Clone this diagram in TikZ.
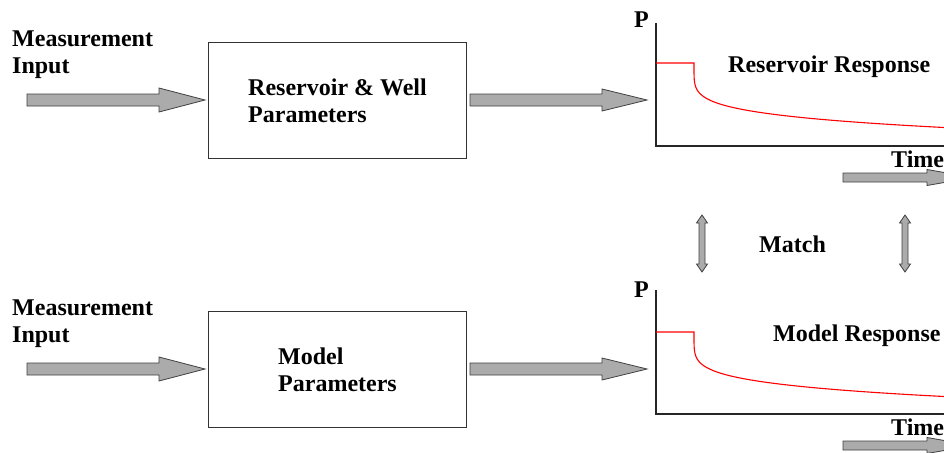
\documentclass[tikz,border=0pt]{standalone}
\usepackage{fontspec}
\setmainfont{Liberation Serif}
\usetikzlibrary{calc}
\tikzset{
  lbl/.style={font=\fontsize{24}{27}\selectfont\bfseries, inner sep=0pt, anchor=base west, align=left},
  blockbox/.style={draw=black!80, line width=1pt, inner sep=0pt, anchor=north west,
    minimum width=258pt, minimum height=116pt, align=left, font=\fontsize{24}{27}\selectfont\bfseries},
  fat/.style={fill=black!33, draw=black!75, line width=0.8pt, line join=miter},
  axisline/.style={draw=black!85, line width=1.2pt},
  resp/.style={draw=red, line width=1.1pt},
}
% horizontal block arrow: #1 start, #2 end, #3 shaft half width, #4 head half width, #5 head length
\newcommand\fatarrow[5]{%
  \filldraw[fat] let \p1=(#1), \p2=(#2) in
    (\x1,\y1+#3) -- (\x2-#5,\y1+#3) -- (\x2-#5,\y1+#4) -- (\x2,\y1) --
    (\x2-#5,\y1-#4) -- (\x2-#5,\y1-#3) -- (\x1,\y1-#3) -- cycle;}
% vertical double block arrow: #1 top, #2 bottom
\newcommand\vdarrow[2]{%
  \filldraw[fat] let \p1=(#1), \p2=(#2) in
    (\x1,\y1) -- (\x1+5.5pt,\y1-8pt) -- (\x1+3pt,\y1-8pt) -- (\x1+3pt,\y2+8pt) --
    (\x1+5.5pt,\y2+8pt) -- (\x1,\y2) -- (\x1-5.5pt,\y2+8pt) -- (\x1-3pt,\y2+8pt) --
    (\x1-3pt,\y1-8pt) -- (\x1-5.5pt,\y1-8pt) -- cycle;}
\begin{document}
\begin{tikzpicture}[x=1pt,y=-1pt]
\useasboundingbox (0,0) rectangle (944,452);
\clip (0,0) rectangle (944,452);
\fill[white] (0,0) rectangle (944,452);

% ---------- top row ----------
\node[lbl] (mi1) at (12,74) {Measurement\\Input};
\node[blockbox] (b1) at (208,42) {Reservoir \& Well\\Parameters};
\coordinate (a1s) at (27,100);
\coordinate (a1e) at (205,100);
\fatarrow{a1s}{a1e}{6pt}{12pt}{46pt}
\coordinate (a2s) at (470,100);
\coordinate (a2e) at (647,100);
\fatarrow{a2s}{a2e}{6pt}{11pt}{45pt}

% graph 1
\coordinate (o1) at (656,146);
\coordinate (t1) at (656,23);
\coordinate (r1) at (950,146);
\draw[axisline] (t1) -- (o1) -- (r1);
\node[lbl] (p1) at (634,28) {P};
\coordinate (f1a) at (656,63);
\coordinate (f1b) at (694,63);
\draw[resp] (f1a) -- (f1b) -- plot[domain=0.02:1,samples=90,variable=\s] ({694+260*\s^4},{63+65*\s^0.8});
\node[lbl] (rr) at (728,72) {Reservoir Response};
\node[lbl] (time1) at (891,167) {Time};
\coordinate (ta1s) at (843,177.5);
\coordinate (ta1e) at (973,177.5);
\fatarrow{ta1s}{ta1e}{4.5pt}{8pt}{46pt}

% match
\coordinate (m1t) at (702,215);
\coordinate (m1b) at (702,272);
\vdarrow{m1t}{m1b}
\coordinate (m2t) at (905,215);
\coordinate (m2b) at (905,272);
\vdarrow{m2t}{m2b}
\node[lbl] (match) at (759,252) {Match};

% ---------- bottom row ----------
\node[lbl] (mi2) at (12,342) {Measurement\\Input};
\node[blockbox] (b2) at (208,311) {Model\\Parameters};
\coordinate (a3s) at (27,369);
\coordinate (a3e) at (205,369);
\fatarrow{a3s}{a3e}{6pt}{12pt}{46pt}
\coordinate (a4s) at (470,369);
\coordinate (a4e) at (647,369);
\fatarrow{a4s}{a4e}{6pt}{11pt}{45pt}

% graph 2
\coordinate (o2) at (656,414);
\coordinate (t2) at (656,290);
\coordinate (r2) at (950,414);
\draw[axisline] (t2) -- (o2) -- (r2);
\node[lbl] (p2) at (634,297) {P};
\coordinate (f2a) at (656,332);
\coordinate (f2b) at (694,332);
\draw[resp] (f2a) -- (f2b) -- plot[domain=0.02:1,samples=90,variable=\s] ({694+260*\s^4},{332+65*\s^0.8});
\node[lbl] (mr) at (773,341) {Model Response};
\node[lbl] (time2) at (891,435) {Time};
\coordinate (ta2s) at (843,445.5);
\coordinate (ta2e) at (973,445.5);
\fatarrow{ta2s}{ta2e}{4.5pt}{8pt}{46pt}
\end{tikzpicture}
\end{document}
